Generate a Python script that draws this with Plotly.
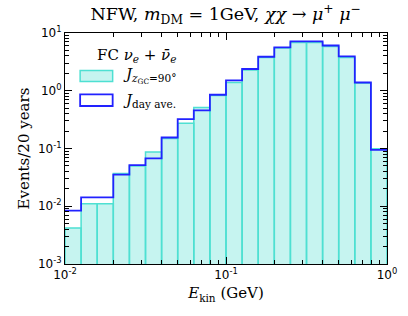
import numpy as np
import plotly.graph_objects as go

# bin edges: 20 log bins from 1e-2 to 1 GeV
log_edges = [-2.0 + 0.1 * i for i in range(21)]
edges = [10 ** e for e in log_edges]

# Events / 20 years
j_zgc90 = [0.0042, 0.0111, 0.0111, 0.0369, 0.050, 0.0867, 0.149, 0.275, 0.514, 0.83,
           1.39, 2.29, 3.78, 5.5, 6.87, 6.87, 5.86, 3.78, 1.36, 0.099]
j_day = [0.0084, 0.0142, 0.0142, 0.0354, 0.0515, 0.0676, 0.155, 0.323, 0.456, 0.853,
         1.51, 2.38, 3.88, 5.63, 7.15, 7.15, 6.07, 3.93, 1.39, 0.095]

ytickvals = [1e-3, 1e-2, 1e-1, 1e0, 1e1]
yticktext = ["10<sup>-3</sup>", "10<sup>-2</sup>", "10<sup>-1</sup>", "10<sup>0</sup>", "10<sup>1</sup>"]
xtickvals = [1e-2, 1e-1, 1e0]
xticktext = ["10<sup>-2</sup>", "10<sup>-1</sup>", "10<sup>0</sup>"]
y_minor = [m * 10 ** d for d in range(-3, 1) for m in range(2, 10)]
x_minor = [m * 10 ** d for d in range(-2, 0) for m in range(2, 10)]

FILL = "#c6f4f0"
EDGE = "#4ee0d2"
BLUE = "#2222ff"
SERIF = "DejaVu Serif, serif"
SANS = "DejaVu Sans, sans-serif"

fig = go.Figure()

# cyan filled bars
bx, by = [], []
for i, v in enumerate(j_zgc90):
    x0, x1 = edges[i], edges[i + 1]
    bx += [x0, x0, x1, x1, x0, None]
    by += [1e-4, v, v, 1e-4, 1e-4, None]
fig.add_trace(go.Scatter(x=bx, y=by, mode="lines", fill="toself", fillcolor=FILL,
                         line=dict(color=EDGE, width=1.5), showlegend=False, hoverinfo="skip"))

# blue step outline
sx = edges
sy = j_day + [j_day[-1]]
fig.add_trace(go.Scatter(x=sx, y=sy, mode="lines", line=dict(color=BLUE, width=1.8, shape="hv"),
                         showlegend=False, hoverinfo="skip"))

def axis_common(minor_vals):
    return dict(type="log", showgrid=False, zeroline=False, showline=True, linecolor="black",
                linewidth=1, mirror="allticks", ticks="inside", ticklen=7, tickwidth=1,
                tickcolor="black", tickfont=dict(family=SANS, size=12, color="black"),
                ticklabeloverflow="allow",
                minor=dict(tickvals=minor_vals, ticks="inside", ticklen=4, tickwidth=1,
                           tickcolor="black", showgrid=False))

fig.update_xaxes(range=[-2, 0], tickvals=xtickvals, ticktext=xticktext,
                 title=dict(text="<i>E</i><sub>kin</sub> (GeV)", font=dict(family=SERIF, size=15, color="black"),
                            standoff=6), **axis_common(x_minor))
fig.update_yaxes(range=[-3, 1], tickvals=ytickvals, ticktext=yticktext,
                 title=dict(text="Events/20 years", font=dict(family=SERIF, size=15, color="black"),
                            standoff=4), **axis_common(y_minor))

# legend drawn in paper coordinates
fig.add_shape(type="rect", xref="paper", yref="paper", x0=0.047, x1=0.148, y0=0.79, y1=0.838,
              fillcolor=FILL, line=dict(color=EDGE, width=1.5))
fig.add_shape(type="rect", xref="paper", yref="paper", x0=0.047, x1=0.148, y0=0.684, y1=0.734,
              fillcolor="white", line=dict(color=BLUE, width=1.8))
fig.add_annotation(xref="paper", yref="paper", x=0.093, y=0.902, xanchor="left", yanchor="middle",
                   text="FC <i>ν</i><sub><i>e</i></sub> + <i>ν̄</i><sub><i>e</i></sub>", showarrow=False,
                   font=dict(family=SERIF, size=15, color="black"))
fig.add_annotation(xref="paper", yref="paper", x=0.175, y=0.814, xanchor="left", yanchor="middle",
                   text="<i>J</i><sub><i>z</i><sub>GC</sub>=90°</sub>", showarrow=False,
                   font=dict(family=SERIF, size=15, color="black"))
fig.add_annotation(xref="paper", yref="paper", x=0.175, y=0.709, xanchor="left", yanchor="middle",
                   text="<i>J</i><sub>day ave.</sub>", showarrow=False,
                   font=dict(family=SERIF, size=15, color="black"))

fig.update_layout(
    width=408, height=316,
    margin=dict(l=65, r=21, t=33, b=52),
    paper_bgcolor="white", plot_bgcolor="white",
    title=dict(text="NFW, <i>m</i><sub>DM</sub> = 1GeV, <i>χχ</i> → <i>μ</i><sup>+</sup> <i>μ</i><sup>−</sup>",
               x=0.553, xanchor="center", y=0.955, yanchor="middle",
               font=dict(family=SERIF, size=17.5, color="black")),
)

fig.write_html("out.html", config={"displayModeBar": False},
               post_script="document.body.style.margin='0';")
